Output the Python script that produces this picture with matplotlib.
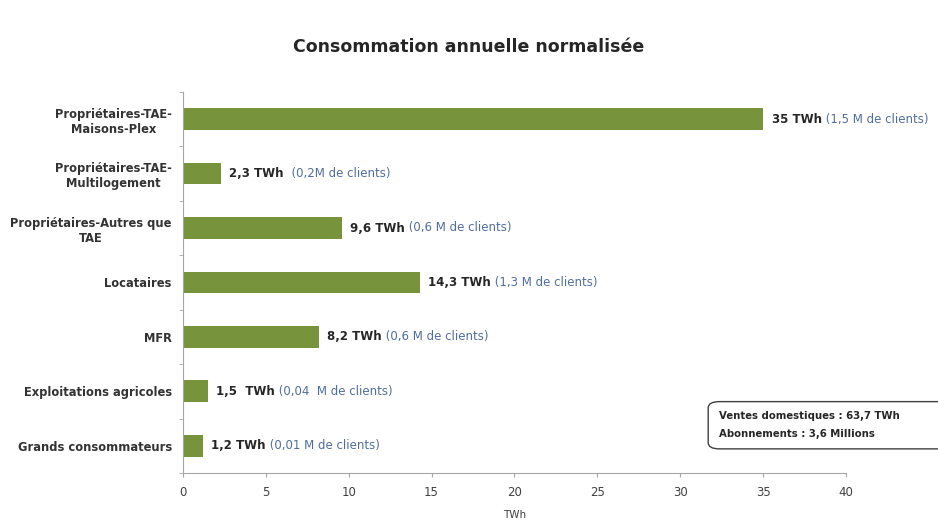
import matplotlib.pyplot as plt
from matplotlib.patches import FancyBboxPatch

categories = [
    "Propriétaires-TAE-\nMaisons-Plex",
    "Propriétaires-TAE-\nMultilogement",
    "Propriétaires-Autres que\nTAE",
    "Locataires",
    "MFR",
    "Exploitations agricoles",
    "Grands consommateurs",
]
twh = [35, 2.3, 9.6, 14.3, 8.2, 1.5, 1.2]
value_labels = ["35 TWh", "2,3 TWh", "9,6 TWh", "14,3 TWh", "8,2 TWh", "1,5  TWh", "1,2 TWh"]
client_labels = [
    "(1,5 M de clients)",
    " (0,2M de clients)",
    "(0,6 M de clients)",
    "(1,3 M de clients)",
    "(0,6 M de clients)",
    "(0,04  M de clients)",
    "(0,01 M de clients)",
]
x_ticks = [0, 5, 10, 15, 20, 25, 30, 35, 40]

plt.rcParams["font.family"] = ["DejaVu Sans"]

fig = plt.figure(figsize=(9.38, 5.25), dpi=100)
ax = fig.add_axes([0.195, 0.099, 0.707, 0.726])

green = "#77933C"
blue = "#4F6E9F"
grey = "#A6A6A6"
dark = "#262626"

y = list(range(len(categories)))[::-1]
ax.barh(y, twh, height=0.4, color=green, zorder=2)

ax.set_xlim(0, 40)
ax.set_ylim(-0.5, len(categories) - 0.5)
ax.set_xticks(x_ticks)
ax.set_xticklabels([str(t) for t in x_ticks], fontsize=8.5, color="#404040")
ax.set_yticks(y)
ax.set_yticklabels(categories, fontsize=8.3, fontweight="bold", color="#333333",
                   multialignment="center")
ax.set_yticks([i - 0.5 for i in range(len(categories) + 1)], minor=True)
ax.tick_params(axis="y", which="major", length=0, pad=8)
ax.tick_params(axis="y", which="minor", length=3, color=grey)
ax.tick_params(axis="x", length=3, color=grey, pad=6)
ax.set_xlabel("TWh", fontsize=7.5, color="#404040", labelpad=8)

for side in ["top", "right"]:
    ax.spines[side].set_visible(False)
for side in ["left", "bottom"]:
    ax.spines[side].set_color(grey)
    ax.spines[side].set_linewidth(0.8)

for yi, v, vl, cl in zip(y, twh, value_labels, client_labels):
    t = ax.annotate(vl, xy=(v, yi), xytext=(6, 0), textcoords="offset points",
                    ha="left", va="center", fontsize=8.5, fontweight="bold",
                    color=dark)
    ax.annotate(" " + cl, xycoords=t, xy=(1, 0.5), va="center", ha="left",
                fontsize=8.5, color=blue)

fig.text(0.5, 0.91, "Consommation annuelle normalisée", ha="center", va="center",
         fontsize=12.5, fontweight="bold", color=dark)

box = FancyBboxPatch((0.755, 0.145), 0.26, 0.09, transform=fig.transFigure,
                     boxstyle="round,pad=0,rounding_size=0.012",
                     facecolor="white", edgecolor="#404040", linewidth=1)
fig.patches.append(box)
fig.text(0.767, 0.208, "Ventes domestiques : 63,7 TWh", fontsize=7.3, fontweight="bold",
         color=dark, va="center")
fig.text(0.767, 0.173, "Abonnements : 3,6 Millions", fontsize=7.3, fontweight="bold",
         color=dark, va="center")

fig.savefig("out.png", dpi=100)
